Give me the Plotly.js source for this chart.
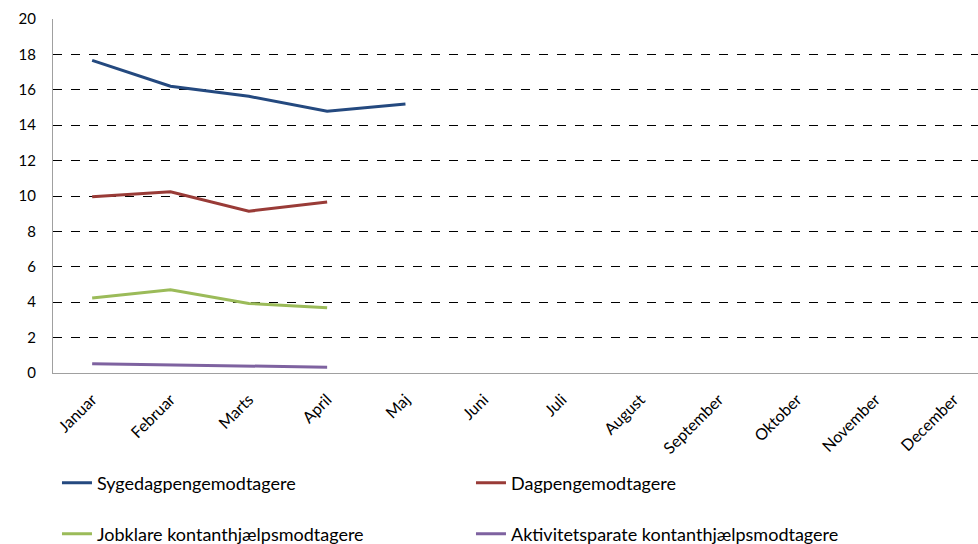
<!DOCTYPE html>
<html><head><meta charset="utf-8">
<script src="https://cdn.plot.ly/plotly-3.0.1.min.js"></script>
<style>body{margin:0;padding:0;background:#fff}#c{width:978px;height:544px}</style>
</head><body><div id="c"></div>
<script>
const months = ["Januar","Februar","Marts","April","Maj","Juni","Juli","August","September","Oktober","November","December"];
const sygedagpenge = [17.66, 16.2, 15.63, 14.79, 15.2];
const dagpenge = [9.96, 10.24, 9.14, 9.66];
const jobklare = [4.24, 4.70, 3.93, 3.69];
const aktivitetsparate = [0.52, 0.46, 0.40, 0.33];
const names = ["Sygedagpengemodtagere","Dagpengemodtagere","Jobklare kontanthjælpsmodtagere","Aktivitetsparate kontanthjælpsmodtagere"];
const yTicks = [0,2,4,6,8,10,12,14,16,18,20];

const colors = ["#24497F","#993B37","#9BBB59","#7E62A0"];
const series = [sygedagpenge, dagpenge, jobklare, aktivitetsparate];
const legends = ["legend","legend","legend2","legend2"];
const traces = series.map((s,i)=>({
  type:"scatter", mode:"lines", x: months.slice(0,s.length), y: s, name: names[i],
  line:{color:colors[i], width:3}, legend: legends[i]
}));
const fam = "Lato, 'Open Sans', sans-serif";
const legCommon = {orientation:"h", xanchor:"left", yanchor:"middle", x:0.0043, entrywidth:369, entrywidthmode:"pixels",
  font:{family:fam, size:18, color:"#000"}, bgcolor:"rgba(0,0,0,0)", itemwidth:30};
const layout = {
  width:978, height:544, paper_bgcolor:"#fff", plot_bgcolor:"#fff",
  margin:{l:53, r:0, t:18.5, b:170.5, autoexpand:false},
  font:{family:fam, size:15, color:"#000"},
  showlegend:true,
  xaxis:{type:"category", categoryarray:months, categoryorder:"array", range:[-0.5, 11.31],
    tickvals: months, ticktext: months, automargin:false,
    tickangle:-45, showline:true, linecolor:"#A0A0A0", linewidth:1, showgrid:false, zeroline:false,
    ticks:"", ticklabelstandoff:10, tickfont:{family:fam, size:16, color:"#000"}, fixedrange:true},
  yaxis:{range:[0,20], tickvals:yTicks, ticktext:yTicks.map(String), showline:true, linecolor:"#A0A0A0", linewidth:1,
    automargin:false,
    showgrid:true, gridcolor:"#000", gridwidth:1, griddash:"dash", zeroline:false, ticks:"", ticklabelstandoff:13,
    tickfont:{family:fam, size:15, color:"#000"}, fixedrange:true},
  legend: Object.assign({}, legCommon, {y:-0.311}),
  legend2: Object.assign({}, legCommon, {y:-0.455})
};
Plotly.newPlot("c", traces, layout, {displayModeBar:false, staticPlot:true});
</script></body></html>
